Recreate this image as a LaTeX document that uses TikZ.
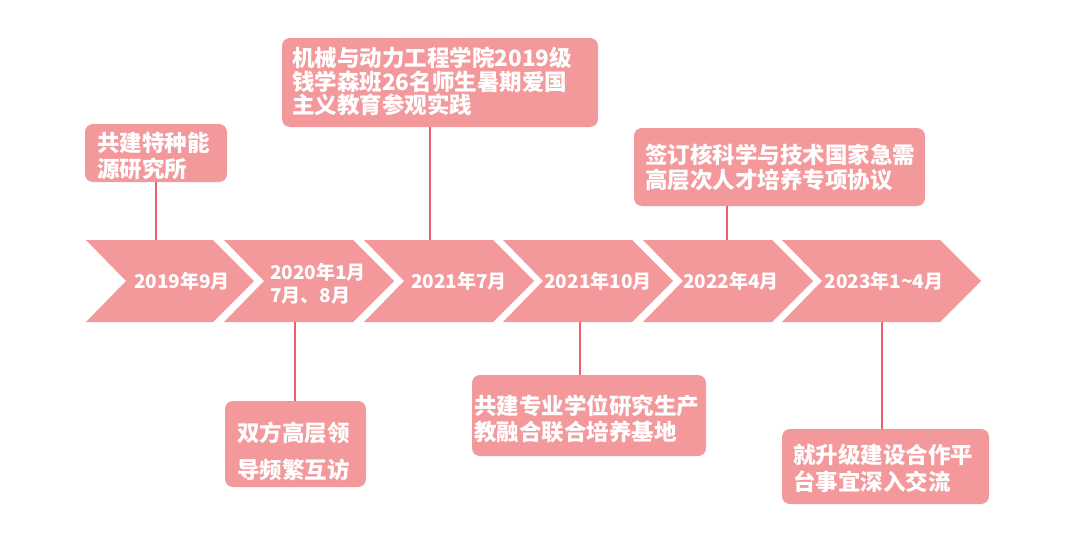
\documentclass[tikz,border=0pt]{standalone}
\usepackage{fontspec}
\setmainfont{Noto Sans CJK SC}
\definecolor{chev}{HTML}{F3999C}
\definecolor{conn}{HTML}{EE5F6A}
\tikzset{
  chevbox/.style={fill=chev, draw=none},
  callout/.style={fill=chev, draw=none, rounded corners=8pt, inner sep=0pt},
  datetxt/.style={text=white, font=\bfseries\fontsize{19}{23}\selectfont, inner sep=0pt, align=left},
  calltxt/.style={text=white, font=\bfseries\fontsize{22.5}{26}\selectfont, inner sep=0pt, align=left, anchor=west},
  link/.style={draw=conn, line width=1.5pt}
}
\begin{document}
\begin{tikzpicture}[x=1pt,y=-1pt]
\useasboundingbox (0,0) rectangle (1080,554);
% chevrons
\foreach \L/\R in {86/213, 224/353, 364/493, 503/632, 643/772, 782/940}{
  \fill[chevbox] (\L,240) -- (\R,240) -- (\R+41,281) -- (\R,322) -- (\L,322) -- (\L+40,281) -- cycle;
}
% date labels
\node[datetxt] (d1) at (182,281) {2019年9月};
\node[datetxt, align=left] (d2) at (318,283.5) {2020年1月\\7月、8月};
\node[datetxt] (d3) at (459,281) {2021年7月};
\node[datetxt] (d4) at (598,281) {2021年10月};
\node[datetxt] (d5) at (731,281) {2022年4月};
\node[datetxt] (d6) at (884,281) {2023年1\textasciitilde 4月};
% attach points on chevrons
\coordinate (c1) at (156,240);
\coordinate (c2) at (295,322);
\coordinate (c3) at (430,240);
\coordinate (c4) at (580,322);
\coordinate (c5) at (727,240);
\coordinate (c6) at (882,322);
% callout boxes
\node[callout, minimum width=142pt, minimum height=58pt] (b1) at (156,153) {};
\node[callout, minimum width=141pt, minimum height=86pt] (b2) at (295.5,444) {};
\node[callout, minimum width=316pt, minimum height=89pt] (b3) at (440,82.5) {};
\node[callout, minimum width=234pt, minimum height=81pt] (b4) at (589,415.5) {};
\node[callout, minimum width=291pt, minimum height=78pt] (b5) at (779.5,167) {};
\node[callout, minimum width=207pt, minimum height=75pt] (b6) at (885.5,466.5) {};
% callout texts
\node[calltxt] (t1) at (97,156) {共建特种能\\源研究所};
\node[calltxt, font=\bfseries\fontsize{22.5}{37}\selectfont] (t2) at (237,451.5) {双方高层领\\导频繁互访};
\node[calltxt, font=\bfseries\fontsize{22.5}{23.5}\selectfont] (t3) at (292,81.7) {机械与动力工程学院2019级\\钱学森班26名师生暑期爱国\\主义教育参观实践};
\node[calltxt] (t4) at (474,419) {共建专业学位研究生产\\教融合联合培养基地};
\node[calltxt, font=\bfseries\fontsize{22.5}{25}\selectfont] (t5) at (645,167.5) {签订核科学与技术国家急需\\高层次人才培养专项协议};
\node[calltxt, font=\bfseries\fontsize{22.5}{27}\selectfont] (t6) at (793,468.5) {就升级建设合作平\\台事宜深入交流};
% connectors
\draw[link] (b1.south) -- (c1);
\draw[link] (c2) -- (b2.north -| c2);
\draw[link] (b3.south -| c3) -- (c3);
\draw[link] (c4) -- (b4.north -| c4);
\draw[link] (b5.south -| c5) -- (c5);
\draw[link] (c6) -- (b6.north -| c6);
\end{tikzpicture}
\end{document}
